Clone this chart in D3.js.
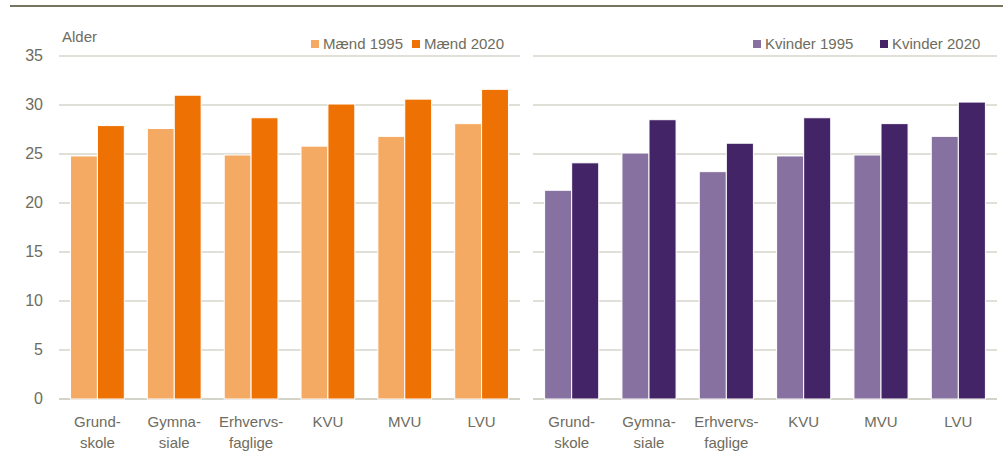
<!DOCTYPE html>
<html>
<head>
<meta charset="utf-8">
<script src="https://cdn.jsdelivr.net/npm/d3@7"></script>
<style>
  body { margin: 0; background: #fff; }
  text { font-family: "Liberation Sans", Arial, sans-serif; fill: #6e6c5e; }
</style>
</head>
<body>
<div id="container"></div>
<script>
// data
const categories = ["Grund-\nskole", "Gymna-\nsiale", "Erhvervs-\nfaglige", "KVU", "MVU", "LVU"];
const maend1995 = [24.8, 27.6, 24.9, 25.8, 26.8, 28.1];
const maend2020 = [27.9, 31.0, 28.7, 30.1, 30.6, 31.6];
const kvinder1995 = [21.3, 25.1, 23.2, 24.8, 24.9, 26.8];
const kvinder2020 = [24.1, 28.5, 26.1, 28.7, 28.1, 30.3];
const yTicks = [0, 5, 10, 15, 20, 25, 30, 35];

const width = 1003, height = 457;

const svg = d3.select("#container").append("svg")
  .attr("width", width)
  .attr("height", height);

// top rule
svg.append("line")
  .attr("x1", 10).attr("x2", width)
  .attr("y1", 6).attr("y2", 6)
  .attr("stroke", "#77755f").attr("stroke-width", 2);

const y = d3.scaleLinear().domain([0, 35]).range([399, 56]);

const panels = [
  { x0: 59, x1: 520, series: [
      { name: "Mænd 1995", values: maend1995, color: "#f5aa64" },
      { name: "Mænd 2020", values: maend2020, color: "#ee7203" }],
    legendX: [311, 412] },
  { x0: 533, x1: 997, series: [
      { name: "Kvinder 1995", values: kvinder1995, color: "#8671a1" },
      { name: "Kvinder 2020", values: kvinder2020, color: "#432466" }],
    legendX: [753, 880] }
];

// y tick labels (left panel only)
svg.append("g").selectAll("text")
  .data(yTicks)
  .join("text")
  .attr("x", 43)
  .attr("y", d => y(d) + 5)
  .attr("text-anchor", "end")
  .attr("font-size", 16)
  .text(d => d);

svg.append("text")
  .attr("x", 62).attr("y", 42)
  .attr("font-size", 15)
  .text("Alder");

panels.forEach(p => {
  const g = svg.append("g");

  // gridlines
  g.selectAll("line.grid")
    .data(yTicks)
    .join("line")
    .attr("class", "grid")
    .attr("x1", p.x0).attr("x2", p.x1)
    .attr("y1", d => y(d)).attr("y2", d => y(d))
    .attr("stroke", d => d === 0 ? "#a9a796" : "#c2c0b2")
    .attr("stroke-width", 1.2);

  const x = d3.scaleBand()
    .domain(categories)
    .range([p.x0, p.x1])
    .paddingInner(0.3)
    .paddingOuter(0.15);

  const xs = d3.scaleBand()
    .domain(d3.range(p.series.length))
    .range([0, x.bandwidth()]);

  p.series.forEach((s, si) => {
    g.selectAll("rect.s" + si)
      .data(s.values)
      .join("rect")
      .attr("class", "s" + si)
      .attr("x", (d, i) => x(categories[i]) + xs(si))
      .attr("width", xs.bandwidth())
      .attr("y", d => y(d))
      .attr("height", d => y(0) - y(d))
      .attr("fill", s.color)
      .attr("stroke", "#fff")
      .attr("stroke-width", 1);
  });

  // category labels
  const lab = g.selectAll("text.cat")
    .data(categories)
    .join("text")
    .attr("class", "cat")
    .attr("text-anchor", "middle")
    .attr("font-size", 15)
    .attr("transform", d => `translate(${x(d) + x.bandwidth() / 2},427)`);
  lab.selectAll("tspan")
    .data(d => d.split("\n"))
    .join("tspan")
    .attr("x", 0)
    .attr("y", (d, i) => i * 21)
    .text(d => d);

  // legend
  p.series.forEach((s, si) => {
    const lx = p.legendX[si];
    g.append("rect")
      .attr("x", lx).attr("y", 40)
      .attr("width", 8).attr("height", 8)
      .attr("fill", s.color);
    g.append("text")
      .attr("x", lx + 12).attr("y", 49)
      .attr("font-size", 15)
      .text(s.name);
  });
});
</script>
</body>
</html>
